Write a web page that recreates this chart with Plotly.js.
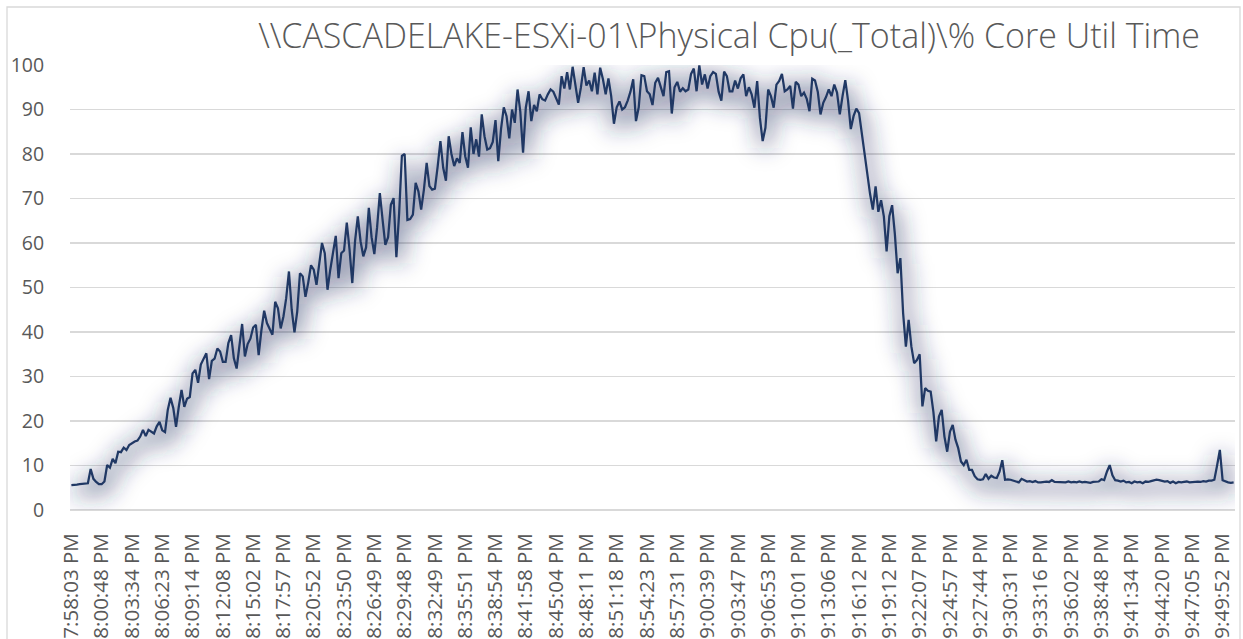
<!DOCTYPE html>
<html>
<head>
<meta charset="utf-8">
<script src="https://cdn.plot.ly/plotly-3.0.1.min.js"></script>
<style>
html,body{margin:0;padding:0;background:#fff;}
#chart{width:1243px;height:639px;}
</style>
</head>
<body>
<div id="chart"></div>
<script>
// Sample times (every labelled 11th one is read from the axis; the rest estimated between them)
const sampleTimes = [
"7:58:03","7:58:18","7:58:33","7:58:48","7:59:03","7:59:18","7:59:33","7:59:48","8:00:03","8:00:18","8:00:33",
"8:00:48","8:01:03","8:01:18","8:01:33","8:01:48","8:02:03","8:02:19","8:02:34","8:02:49","8:03:04","8:03:19",
"8:03:34","8:03:49","8:04:05","8:04:20","8:04:35","8:04:51","8:05:06","8:05:22","8:05:37","8:05:52","8:06:08",
"8:06:23","8:06:39","8:06:54","8:07:10","8:07:25","8:07:41","8:07:56","8:08:12","8:08:27","8:08:43","8:08:58",
"8:09:14","8:09:30","8:09:46","8:10:01","8:10:17","8:10:33","8:10:49","8:11:05","8:11:21","8:11:36","8:11:52",
"8:12:08","8:12:24","8:12:40","8:12:55","8:13:11","8:13:27","8:13:43","8:13:59","8:14:15","8:14:30","8:14:46",
"8:15:02","8:15:18","8:15:34","8:15:50","8:16:06","8:16:22","8:16:37","8:16:53","8:17:09","8:17:25","8:17:41",
"8:17:57","8:18:13","8:18:29","8:18:45","8:19:01","8:19:17","8:19:32","8:19:48","8:20:04","8:20:20","8:20:36",
"8:20:52","8:21:08","8:21:24","8:21:41","8:21:57","8:22:13","8:22:29","8:22:45","8:23:01","8:23:18","8:23:34",
"8:23:50","8:24:06","8:24:23","8:24:39","8:24:55","8:25:11","8:25:28","8:25:44","8:26:00","8:26:16","8:26:33",
"8:26:49","8:27:05","8:27:22","8:27:38","8:27:54","8:28:10","8:28:27","8:28:43","8:28:59","8:29:15","8:29:32",
"8:29:48","8:30:04","8:30:21","8:30:37","8:30:54","8:31:10","8:31:27","8:31:43","8:32:00","8:32:16","8:32:33",
"8:32:49","8:33:06","8:33:22","8:33:39","8:33:55","8:34:12","8:34:28","8:34:45","8:35:01","8:35:18","8:35:34",
"8:35:51","8:36:08","8:36:24","8:36:41","8:36:58","8:37:14","8:37:31","8:37:47","8:38:04","8:38:21","8:38:37",
"8:38:54","8:39:11","8:39:27","8:39:44","8:40:01","8:40:18","8:40:34","8:40:51","8:41:08","8:41:25","8:41:41",
"8:41:58","8:42:15","8:42:32","8:42:49","8:43:06","8:43:23","8:43:39","8:43:56","8:44:13","8:44:30","8:44:47",
"8:45:04","8:45:21","8:45:38","8:45:55","8:46:12","8:46:29","8:46:46","8:47:03","8:47:20","8:47:37","8:47:54",
"8:48:11","8:48:28","8:48:45","8:49:02","8:49:19","8:49:36","8:49:53","8:50:10","8:50:27","8:50:44","8:51:01",
"8:51:18","8:51:35","8:51:52","8:52:08","8:52:25","8:52:42","8:52:59","8:53:16","8:53:33","8:53:49","8:54:06",
"8:54:23","8:54:40","8:54:57","8:55:14","8:55:31","8:55:48","8:56:06","8:56:23","8:56:40","8:56:57","8:57:14",
"8:57:31","8:57:48","8:58:05","8:58:22","8:58:39","8:58:56","8:59:14","8:59:31","8:59:48","9:00:05","9:00:22",
"9:00:39","9:00:56","9:01:13","9:01:30","9:01:47","9:02:04","9:02:22","9:02:39","9:02:56","9:03:13","9:03:30",
"9:03:47","9:04:04","9:04:21","9:04:38","9:04:55","9:05:12","9:05:28","9:05:45","9:06:02","9:06:19","9:06:36",
"9:06:53","9:07:10","9:07:27","9:07:44","9:08:01","9:08:18","9:08:36","9:08:53","9:09:10","9:09:27","9:09:44",
"9:10:01","9:10:18","9:10:35","9:10:51","9:11:08","9:11:25","9:11:42","9:11:59","9:12:16","9:12:32","9:12:49",
"9:13:06","9:13:23","9:13:40","9:13:57","9:14:14","9:14:31","9:14:47","9:15:04","9:15:21","9:15:38","9:15:55",
"9:16:12","9:16:28","9:16:45","9:17:01","9:17:17","9:17:34","9:17:50","9:18:07","9:18:23","9:18:39","9:18:56",
"9:19:12","9:19:28","9:19:44","9:20:00","9:20:16","9:20:32","9:20:47","9:21:03","9:21:19","9:21:35","9:21:51",
"9:22:07","9:22:22","9:22:38","9:22:53","9:23:09","9:23:24","9:23:40","9:23:55","9:24:11","9:24:26","9:24:42",
"9:24:57","9:25:12","9:25:27","9:25:43","9:25:58","9:26:13","9:26:28","9:26:43","9:26:58","9:27:14","9:27:29",
"9:27:44","9:27:59","9:28:14","9:28:30","9:28:45","9:29:00","9:29:15","9:29:30","9:29:45","9:30:01","9:30:16",
"9:30:31","9:30:46","9:31:01","9:31:16","9:31:31","9:31:46","9:32:01","9:32:16","9:32:31","9:32:46","9:33:01",
"9:33:16","9:33:31","9:33:46","9:34:01","9:34:16","9:34:31","9:34:47","9:35:02","9:35:17","9:35:32","9:35:47",
"9:36:02","9:36:17","9:36:32","9:36:47","9:37:02","9:37:17","9:37:33","9:37:48","9:38:03","9:38:18","9:38:33",
"9:38:48","9:39:03","9:39:18","9:39:33","9:39:48","9:40:03","9:40:19","9:40:34","9:40:49","9:41:04","9:41:19",
"9:41:34","9:41:49","9:42:04","9:42:19","9:42:34","9:42:49","9:43:05","9:43:20","9:43:35","9:43:50","9:44:05",
"9:44:20","9:44:35","9:44:50","9:45:05","9:45:20","9:45:35","9:45:50","9:46:05","9:46:20","9:46:35","9:46:50",
"9:47:05","9:47:20","9:47:35","9:47:51","9:48:06","9:48:21","9:48:36","9:48:51","9:49:06","9:49:22","9:49:37",
"9:49:52","9:50:07","9:50:22","9:50:37","9:50:52"
];

// % Core Util Time
const coreUtil = [
5.6,5.6,5.7,5.8,5.9,5.9,6.0,9.2,7.0,6.3,
5.8,5.8,6.4,10.1,9.5,11.5,10.5,13.1,13.0,14.0,
13.5,14.6,15.1,15.4,15.6,16.5,18.0,16.6,18.0,17.5,
17.2,18.8,19.8,17.9,17.5,22.5,25.2,22.9,18.7,23.2,
27.0,23.2,25.0,25.4,30.7,31.5,28.6,32.7,34.0,35.2,
29.4,33.5,34.0,36.3,35.6,33.3,33.3,37.5,39.3,34.1,
31.8,37.5,41.8,34.5,37.3,38.5,41.0,41.6,34.8,40.4,
44.8,42.0,40.5,39.4,46.8,45.3,40.8,43.5,47.6,53.6,
45.0,39.9,44.6,53.2,52.5,47.9,51.1,55.0,54.0,50.6,
55.3,60.0,57.7,49.5,54.0,57.7,61.6,52.1,57.7,58.3,
64.6,58.5,51.0,60.4,66.0,60.4,57.0,59.0,67.9,61.3,
57.5,63.5,71.2,65.2,59.6,61.3,68.6,70.1,56.8,66.6,
79.6,80.0,65.2,65.4,66.4,73.5,71.6,67.5,72.0,78.0,
72.8,72.0,72.2,77.2,82.9,76.9,74.0,84.0,80.0,77.3,
79.0,78.0,84.9,79.5,76.9,86.0,80.0,83.3,79.4,88.9,
84.0,81.0,81.3,82.7,87.6,78.4,85.6,90.5,88.5,83.5,
90.0,87.0,94.5,89.5,80.3,90.4,94.1,87.4,91.0,89.6,
93.4,92.3,92.0,93.4,94.5,94.0,92.6,91.1,97.5,94.7,
98.4,94.5,99.6,95.3,91.5,94.9,99.5,95.4,96.5,94.1,
98.3,93.4,99.4,96.8,93.4,97.0,93.0,86.8,90.5,91.8,
90.0,90.5,92.0,94.0,96.8,87.4,90.5,97.7,97.5,94.1,
93.4,91.0,96.0,97.1,95.0,93.0,98.4,98.6,89.1,95.0,
96.2,94.0,94.8,94.1,94.5,98.0,99.2,94.1,99.9,95.6,
97.9,94.7,97.5,98.4,98.0,94.0,92.0,98.5,97.5,94.1,
94.1,96.5,94.7,97.0,97.9,93.0,95.0,93.4,90.4,96.4,
88.1,82.9,85.9,94.5,93.0,90.4,95.6,96.4,98.0,94.1,
94.5,95.3,90.2,96.2,95.6,93.0,93.8,92.4,89.6,96.9,
96.5,94.0,88.9,91.5,92.8,94.5,93.0,95.6,93.8,88.9,
93.0,96.6,92.0,85.6,88.5,90.2,89.2,84.5,80.0,75.0,
71.0,67.5,72.7,67.0,69.6,66.0,58.1,66.0,68.5,62.0,
53.2,56.6,44.2,36.7,42.7,36.7,33.0,33.7,35.0,23.3,
27.4,26.8,26.6,22.0,15.4,21.0,22.5,16.5,13.1,17.6,
19.1,15.8,13.9,10.9,10.1,11.3,9.0,9.0,7.6,6.9,
6.8,6.9,8.1,7.0,7.7,7.3,7.2,8.6,11.2,6.8,
6.9,6.8,6.6,6.5,6.2,7.0,6.6,6.4,6.5,6.3,
6.5,6.2,6.2,6.3,6.4,6.3,6.7,6.3,6.3,6.2,
6.3,6.2,6.4,6.2,6.3,6.2,6.4,6.2,6.3,6.2,
6.1,6.3,6.4,6.4,6.9,6.7,8.6,10.1,7.8,6.7,
6.6,6.4,6.6,6.2,6.3,6.0,6.4,6.2,6.3,6.0,
6.4,6.3,6.5,6.6,6.8,6.7,6.6,6.4,6.5,6.1,
6.4,6.0,6.3,6.2,6.3,6.4,6.2,6.3,6.3,6.4,
6.3,6.5,6.4,6.6,6.6,6.8,10.0,13.5,6.7,6.4,
6.2,6.1,6.2
];

const chartTitle = '\\\\CASCADELAKE-ESXi-01\\Physical Cpu(_Total)\\% Core Util Time';
const yTicks = [0,10,20,30,40,50,60,70,80,90,100];

const categories = sampleTimes.map(t => t + ' PM');

const font = 'Open Sans, Liberation Sans, sans-serif';
const grey = '#595959';

const traces = [
  { // soft shadow under the line
    type: 'scatter', mode: 'lines', x: categories, y: coreUtil,
    line: {color: 'rgba(35,50,95,0.42)', width: 14},
    hoverinfo: 'skip', showlegend: false
  },
  {
    type: 'scatter', mode: 'lines', x: categories, y: coreUtil,
    line: {color: '#203864', width: 2.25},
    showlegend: false
  }
];

const layout = {
  width: 1243, height: 639,
  margin: {l: 70, r: 8, t: 65, b: 129},
  paper_bgcolor: '#ffffff', plot_bgcolor: '#ffffff',
  showlegend: false,
  title: {
    text: chartTitle,
    font: {family: font, size: 34, color: grey, weight: 300},
    xref: 'container', x: 1200/1243, xanchor: 'right',
    yref: 'container', y: 1 - 36/639, yanchor: 'middle'
  },
  xaxis: {
    type: 'category',
    range: [-0.5, categories.length - 0.5],
    tickmode: 'linear', tick0: 0, dtick: 11,
    tickangle: -90,
    showgrid: false, zeroline: false, showline: false,
    ticks: 'outside', ticklen: 14, tickcolor: 'rgba(0,0,0,0)',
    tickfont: {family: font, size: 20.5, color: grey},
    automargin: false
  },
  yaxis: {
    range: [0, 100],
    tickmode: 'array', tickvals: yTicks,
    showgrid: true, gridcolor: '#d9d9d9', gridwidth: 1.3,
    zeroline: true, zerolinecolor: '#d9d9d9', zerolinewidth: 1.3,
    showline: false,
    ticks: 'outside', ticklen: 21, tickcolor: 'rgba(0,0,0,0)',
    tickfont: {family: font, size: 19.5, color: grey},
    automargin: false
  },
  shapes: [{
    type: 'rect', xref: 'paper', yref: 'paper',
    x0: (7 - 70) / 1165, x1: (1240 - 70) / 1165,
    y0: (510 - 700) / 445, y1: (510 - 7) / 445,
    line: {color: '#d9d9d9', width: 1.3}, fillcolor: 'rgba(0,0,0,0)', layer: 'below'
  }]
};

Plotly.newPlot('chart', traces, layout, {staticPlot: true, displayModeBar: false}).then(gd => {
  const svg = gd.querySelector('svg.main-svg');
  const ns = 'http://www.w3.org/2000/svg';
  let defs = svg.querySelector('defs');
  if (!defs) { defs = document.createElementNS(ns, 'defs'); svg.insertBefore(defs, svg.firstChild); }
  const f = document.createElementNS(ns, 'filter');
  f.setAttribute('id', 'lineGlow');
  f.setAttribute('x', '-10%'); f.setAttribute('y', '-20%');
  f.setAttribute('width', '120%'); f.setAttribute('height', '140%');
  const blur = document.createElementNS(ns, 'feGaussianBlur');
  blur.setAttribute('stdDeviation', '11');
  f.appendChild(blur);
  defs.appendChild(f);
  const tr = gd.querySelectorAll('.scatterlayer .trace');
  if (tr.length) {
    const p = tr[0].querySelector('path.js-line');
    if (p) { p.setAttribute('filter', 'url(#lineGlow)'); p.setAttribute('transform', 'translate(2,6)'); }
  }
});
</script>
</body>
</html>
